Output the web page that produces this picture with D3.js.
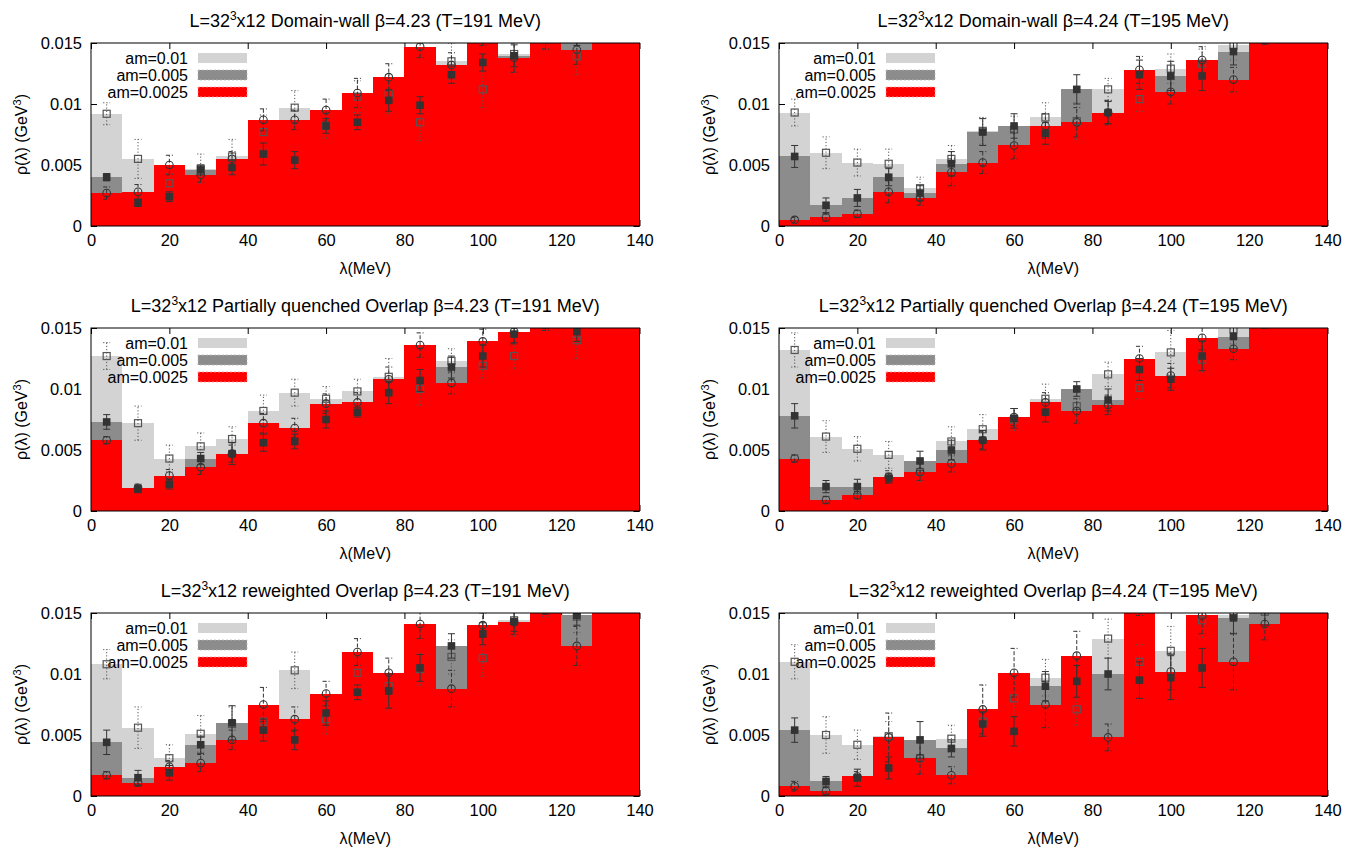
<!DOCTYPE html>
<html lang="en">
<head>
<meta charset="UTF-8" />
<title>rho(lambda) histograms</title>
<script src="https://d3js.org/d3.v7.min.js"></script>
<style>
  body { margin: 0; background: #fff; }
  svg { font-family: "Liberation Sans", Arial, sans-serif; }
</style>
</head>
<body>
<svg id="chart" width="1364" height="850"></svg>
<script>
// bin lower edges (MeV), bin width 8
const binStarts = [0, 8, 16, 24, 32, 40, 48, 56, 64, 72, 80, 88, 96, 104, 112, 120, 128, 136];
const binWidth = 8;
const xTicks = [0, 20, 40, 60, 80, 100, 120, 140];
const yTicks = [0, 0.005, 0.01, 0.015];
const seriesNames = ["am=0.01", "am=0.005", "am=0.0025"];

// Domain-wall beta=4.23
const dw423_01 = [0.0092, 0.0055, 0.0035, 0.0047, 0.0057, 0.0077, 0.0097, 0.0082, 0.0106, 0.0108, 0.0085, 0.0135, 0.0112, 0.0141, 0.0160, 0.0139, 0.0170, 0.0175];
const dw423_01e = [0.0009, 0.0016, 0.0008, 0.0012, 0.0014, 0.0014, 0.0014, 0.0010, 0.0013, 0.0016, 0.0015, 0.0015, 0.0015, 0.0015, 0.0015, 0.0015, 0.0015, 0.0015];
const dw423_005 = [0.0040, 0.0019, 0.0024, 0.0046, 0.0048, 0.0059, 0.0054, 0.0082, 0.0085, 0.0103, 0.0099, 0.0124, 0.0134, 0.01395, 0.0158, 0.0156, 0.0168, 0.0172];
const dw423_005e = [0.0003, 0.0003, 0.0004, 0.0004, 0.0006, 0.0009, 0.0007, 0.0006, 0.0006, 0.0009, 0.0007, 0.0007, 0.0007, 0.0009, 0.0008, 0.0008, 0.0008, 0.0008];
const dw423_0025 = [0.0027, 0.0028, 0.0050, 0.0042, 0.0055, 0.0087, 0.0087, 0.0095, 0.0109, 0.0122, 0.0147, 0.0132, 0.0158, 0.0138, 0.0155, 0.01445, 0.0165, 0.0170];
const dw423_0025e = [0.0005, 0.0006, 0.0008, 0.0006, 0.0006, 0.0009, 0.0008, 0.0009, 0.0012, 0.0011, 0.0009, 0.0010, 0.0010, 0.0012, 0.0010, 0.0012, 0.0010, 0.0010];

// Domain-wall beta=4.24
const dw424_01 = [0.0093, 0.0060, 0.0052, 0.0051, 0.0031, 0.0055, 0.0078, 0.0079, 0.0089, 0.0086, 0.0112, 0.0104, 0.0129, 0.0133, 0.0148, 0.0165, 0.0170, 0.0175];
const dw424_01e = [0.0011, 0.0013, 0.0011, 0.0012, 0.0009, 0.0011, 0.0011, 0.0011, 0.0012, 0.0015, 0.0009, 0.0010, 0.0012, 0.0012, 0.0012, 0.0012, 0.0012, 0.0012];
const dw424_005 = [0.0057, 0.0017, 0.0023, 0.0040, 0.0027, 0.0051, 0.0077, 0.0082, 0.0076, 0.0112, 0.0093, 0.0124, 0.0123, 0.0123, 0.0143, 0.0160, 0.0168, 0.0172];
const dw424_005e = [0.0009, 0.0006, 0.0007, 0.0007, 0.0006, 0.0010, 0.0011, 0.0010, 0.0009, 0.0012, 0.0009, 0.0012, 0.0012, 0.0012, 0.0011, 0.0011, 0.0011, 0.0011];
const dw424_0025 = [0.0005, 0.0007, 0.0010, 0.0028, 0.0023, 0.0044, 0.0052, 0.0066, 0.0082, 0.0085, 0.0093, 0.0128, 0.0110, 0.0136, 0.0120, 0.0160, 0.0165, 0.0170];
const dw424_0025e = [0.0002, 0.0003, 0.0003, 0.0009, 0.0006, 0.0011, 0.0009, 0.0011, 0.0010, 0.0012, 0.0010, 0.0011, 0.0010, 0.0011, 0.0010, 0.0010, 0.0010, 0.0010];

// Partially quenched Overlap beta=4.23
const pq423_01 = [0.0127, 0.0072, 0.0043, 0.0053, 0.0059, 0.0082, 0.0097, 0.0092, 0.0098, 0.0110, 0.0100, 0.0123, 0.0119, 0.0127, 0.0160, 0.0140, 0.0170, 0.0175];
const pq423_01e = [0.0011, 0.0014, 0.0011, 0.0011, 0.0010, 0.0013, 0.0011, 0.0010, 0.0010, 0.0015, 0.0013, 0.0010, 0.0010, 0.0010, 0.0012, 0.0015, 0.0012, 0.0012];
const pq423_005 = [0.0073, 0.0018, 0.0022, 0.0043, 0.0047, 0.0056, 0.0057, 0.0075, 0.0081, 0.0097, 0.0107, 0.0118, 0.0127, 0.0145, 0.0158, 0.0147, 0.0168, 0.0172];
const pq423_005e = [0.0006, 0.0003, 0.0004, 0.0005, 0.0009, 0.0007, 0.0006, 0.0007, 0.0004, 0.0009, 0.0009, 0.0009, 0.0009, 0.0007, 0.0008, 0.0008, 0.0008, 0.0008];
const pq423_0025 = [0.0058, 0.0019, 0.0029, 0.0036, 0.0047, 0.0072, 0.0068, 0.0088, 0.0089, 0.0108, 0.0136, 0.0105, 0.0139, 0.0147, 0.0158, 0.0155, 0.0165, 0.0170];
const pq423_0025e = [0.0003, 0.0003, 0.0005, 0.0006, 0.0007, 0.0008, 0.0008, 0.0008, 0.0008, 0.0010, 0.0010, 0.0009, 0.0010, 0.0010, 0.0010, 0.0010, 0.0010, 0.0010];

// Partially quenched Overlap beta=4.24
const pq424_01 = [0.0132, 0.0061, 0.0051, 0.0046, 0.0032, 0.0057, 0.0067, 0.0075, 0.0092, 0.0086, 0.0112, 0.0101, 0.0130, 0.0124, 0.0149, 0.0165, 0.0170, 0.0175];
const pq424_01e = [0.0014, 0.0013, 0.0010, 0.0011, 0.0008, 0.0012, 0.0012, 0.0009, 0.0012, 0.0013, 0.0010, 0.0009, 0.0018, 0.0010, 0.0012, 0.0012, 0.0012, 0.0012];
const pq424_005 = [0.0078, 0.0020, 0.0020, 0.0027, 0.0041, 0.0050, 0.0058, 0.0076, 0.0081, 0.0100, 0.0091, 0.0116, 0.0108, 0.0127, 0.0143, 0.0160, 0.0168, 0.0172];
const pq424_005e = [0.0010, 0.0005, 0.0006, 0.0004, 0.0008, 0.0008, 0.0008, 0.0008, 0.0008, 0.0006, 0.0009, 0.0009, 0.0009, 0.0012, 0.0010, 0.0010, 0.0010, 0.0010];
const pq424_0025 = [0.0043, 0.0009, 0.0013, 0.0028, 0.0032, 0.0039, 0.0058, 0.0077, 0.0089, 0.0082, 0.0087, 0.0125, 0.0111, 0.0142, 0.0133, 0.0160, 0.0165, 0.0170];
const pq424_0025e = [0.0003, 0.0003, 0.0003, 0.0005, 0.0007, 0.0007, 0.0007, 0.0007, 0.0008, 0.0010, 0.0008, 0.0010, 0.0010, 0.0010, 0.0009, 0.0010, 0.0010, 0.0010];

// reweighted Overlap beta=4.23
const rw423_01 = [0.0108, 0.0056, 0.0031, 0.0051, 0.0059, 0.0061, 0.0103, 0.0063, 0.0101, 0.0090, 0.0104, 0.0114, 0.0113, 0.0144, 0.0160, 0.0147, 0.0170, 0.0175];
const rw423_01e = [0.0012, 0.0017, 0.0011, 0.0015, 0.0014, 0.0012, 0.0015, 0.0012, 0.0013, 0.0013, 0.0013, 0.0014, 0.0015, 0.0013, 0.0013, 0.0013, 0.0013, 0.0013];
const rw423_005 = [0.0044, 0.0015, 0.0019, 0.0042, 0.0060, 0.0054, 0.0046, 0.0068, 0.0085, 0.0086, 0.0105, 0.0123, 0.0133, 0.0143, 0.0158, 0.0148, 0.0168, 0.0172];
const rw423_005e = [0.0010, 0.0006, 0.0006, 0.0007, 0.0014, 0.0009, 0.0008, 0.0010, 0.0006, 0.0014, 0.0011, 0.0010, 0.0009, 0.0008, 0.0009, 0.0008, 0.0009, 0.0009];
const rw423_0025 = [0.0017, 0.0011, 0.0024, 0.0027, 0.0046, 0.0075, 0.0063, 0.0084, 0.0118, 0.0101, 0.0141, 0.0088, 0.0140, 0.01425, 0.0160, 0.0123, 0.0165, 0.0170];
const rw423_0025e = [0.0003, 0.0003, 0.0005, 0.0007, 0.0008, 0.0014, 0.0010, 0.0010, 0.0011, 0.0012, 0.0012, 0.0015, 0.0010, 0.0010, 0.0010, 0.0016, 0.0010, 0.0010];

// reweighted Overlap beta=4.24
const rw424_01 = [0.0110, 0.0050, 0.0042, 0.0049, 0.0031, 0.0047, 0.0061, 0.0080, 0.0097, 0.0071, 0.0129, 0.0110, 0.0119, 0.0144, 0.0148, 0.0151, 0.0170, 0.0175];
const rw424_01e = [0.0014, 0.0015, 0.0012, 0.0012, 0.0013, 0.0011, 0.0011, 0.0016, 0.0015, 0.0013, 0.0016, 0.0014, 0.0020, 0.0014, 0.0014, 0.0014, 0.0014, 0.0014];
const rw424_005 = [0.0054, 0.0012, 0.0015, 0.0023, 0.0046, 0.0039, 0.0059, 0.0053, 0.0090, 0.0094, 0.0100, 0.0095, 0.0097, 0.0105, 0.0146, 0.0153, 0.0168, 0.0172];
const rw424_005e = [0.0010, 0.0004, 0.0007, 0.0009, 0.0015, 0.0007, 0.0010, 0.0012, 0.0012, 0.0013, 0.0013, 0.0015, 0.0018, 0.0016, 0.0013, 0.0013, 0.0013, 0.0013];
const rw424_0025 = [0.0008, 0.0004, 0.0016, 0.0048, 0.0031, 0.0017, 0.0071, 0.0101, 0.0075, 0.0115, 0.0048, 0.0160, 0.0102, 0.0148, 0.0110, 0.0141, 0.0165, 0.0170];
const rw424_0025e = [0.0004, 0.0003, 0.0004, 0.0020, 0.0013, 0.0007, 0.0020, 0.0020, 0.0019, 0.0020, 0.0011, 0.0012, 0.0015, 0.0015, 0.0023, 0.0013, 0.0012, 0.0012];

const panels = [
  { title: "Domain-wall β=4.23 (T=191 MeV)", vals: [dw423_01, dw423_005, dw423_0025], errs: [dw423_01e, dw423_005e, dw423_0025e] },
  { title: "Domain-wall β=4.24 (T=195 MeV)", vals: [dw424_01, dw424_005, dw424_0025], errs: [dw424_01e, dw424_005e, dw424_0025e] },
  { title: "Partially quenched Overlap β=4.23 (T=191 MeV)", vals: [pq423_01, pq423_005, pq423_0025], errs: [pq423_01e, pq423_005e, pq423_0025e] },
  { title: "Partially quenched Overlap β=4.24 (T=195 MeV)", vals: [pq424_01, pq424_005, pq424_0025], errs: [pq424_01e, pq424_005e, pq424_0025e] },
  { title: "reweighted Overlap β=4.23 (T=191 MeV)", vals: [rw423_01, rw423_005, rw423_0025], errs: [rw423_01e, rw423_005e, rw423_0025e] },
  { title: "reweighted Overlap β=4.24 (T=195 MeV)", vals: [rw424_01, rw424_005, rw424_0025], errs: [rw424_01e, rw424_005e, rw424_0025e] },
];

// layout
const colX = [91, 779];
const plotW = 548.5;
const rowY = [43, 328, 613];
const plotH = 183;
const barColors = ["#d3d3d3", "#8c8c8c", "#ff0000"];
const errDash = ["1.2,2", null, "4,2"];
const ink = "#333";

const svg = d3.select("#chart");

panels.forEach((p, i) => {
  const x0 = colX[i % 2];
  const y0 = rowY[Math.floor(i / 2)];
  const g = svg.append("g");

  const x = d3.scaleLinear().domain([0, 140]).range([x0, x0 + plotW]);
  const y = d3.scaleLinear().domain([0, 0.015]).range([y0 + plotH, y0]);

  const clipId = "clip" + i;
  g.append("clipPath").attr("id", clipId)
    .append("rect").attr("x", x0).attr("y", y0).attr("width", plotW).attr("height", plotH);

  // ticks (behind the bars), mirrored on all sides
  const fmtY = (d) => (d === 0 ? "0" : String(+d.toFixed(3)));
  g.append("g").attr("transform", `translate(0,${y0 + plotH})`)
    .call(d3.axisBottom(x).tickValues(xTicks).tickSize(-6).tickPadding(8).tickFormat(d3.format("d")));
  g.append("g").attr("transform", `translate(0,${y0})`)
    .call(d3.axisTop(x).tickValues(xTicks).tickSize(-6).tickFormat(""));
  g.append("g").attr("transform", `translate(${x0},0)`)
    .call(d3.axisLeft(y).tickValues(yTicks).tickSize(-6).tickPadding(9).tickFormat(fmtY));
  g.append("g").attr("transform", `translate(${x0 + plotW},0)`)
    .call(d3.axisRight(y).tickValues(yTicks).tickSize(-6).tickFormat(""));
  g.selectAll(".domain").remove();
  g.selectAll(".tick line").attr("stroke", "#000");
  g.selectAll(".tick text").attr("font-size", 16.5).attr("fill", "#000")
    .attr("font-family", "'Liberation Sans', Arial, sans-serif");

  // histogram bars: am=0.01, then am=0.005, then am=0.0025 on top
  const plot = g.append("g").attr("clip-path", `url(#${clipId})`);
  p.vals.forEach((vals, s) => {
    plot.append("g").selectAll("rect")
      .data(vals)
      .join("rect")
      .attr("shape-rendering", "crispEdges")
      .attr("x", (d, k) => x(binStarts[k]))
      .attr("width", (d, k) => x(binStarts[k] + binWidth) - x(binStarts[k]))
      .attr("y", (d) => y(d))
      .attr("height", (d) => y(0) - y(d))
      .attr("fill", barColors[s]);
  });

  // legend
  const leg = g.append("g");
  seriesNames.forEach((name, s) => {
    const ly = y0 + 15 + s * 17;
    leg.append("text")
      .attr("x", x0 + 97).attr("y", ly + 5.5)
      .attr("text-anchor", "end").attr("font-size", 16)
      .text(name);
    leg.append("rect")
      .attr("x", x0 + 107).attr("y", ly - 5)
      .attr("width", 49).attr("height", 10)
      .attr("fill", barColors[s])
      .attr("stroke", s === 0 ? "none" : s === 1 ? "#bbb" : "#ff9a9a")
      .attr("stroke-dasharray", "2,2").attr("stroke-width", 0.8);
  });

  // points with error bars
  const pts = g.append("g").attr("clip-path", `url(#${clipId})`);
  p.vals.forEach((vals, s) => {
    const errs = p.errs[s];
    const sg = pts.append("g");
    vals.forEach((v, k) => {
      const cx = x(binStarts[k] + binWidth / 2);
      const yl = y(v - errs[k]);
      const yh = y(v + errs[k]);
      const e = sg.append("g")
        .attr("stroke", s === 0 ? "#555" : ink)
        .attr("stroke-width", 1)
        .attr("stroke-dasharray", errDash[s]);
      e.append("line").attr("x1", cx).attr("x2", cx).attr("y1", yl).attr("y2", yh);
      e.append("line").attr("x1", cx - 3.5).attr("x2", cx + 3.5).attr("y1", yl).attr("y2", yl);
      e.append("line").attr("x1", cx - 3.5).attr("x2", cx + 3.5).attr("y1", yh).attr("y2", yh);
      const cy = y(v);
      if (s === 0) {
        sg.append("rect").attr("x", cx - 3.5).attr("y", cy - 3.5).attr("width", 7).attr("height", 7)
          .attr("fill", "none").attr("stroke", "#555").attr("stroke-width", 1.2);
      } else if (s === 1) {
        sg.append("rect").attr("x", cx - 3.8).attr("y", cy - 3.8).attr("width", 7.6).attr("height", 7.6)
          .attr("fill", ink);
      } else {
        sg.append("circle").attr("cx", cx).attr("cy", cy).attr("r", 3.8)
          .attr("fill", "none").attr("stroke", ink).attr("stroke-width", 1.1);
      }
    });
  });

  // frame
  g.append("rect")
    .attr("x", x0).attr("y", y0).attr("width", plotW).attr("height", plotH)
    .attr("fill", "none").attr("stroke", "#000").attr("stroke-width", 1);

  // title with superscript
  const t = g.append("text")
    .attr("x", x0 + plotW / 2).attr("y", y0 - 16)
    .attr("text-anchor", "middle").attr("font-size", 18);
  t.append("tspan").text("L=32");
  t.append("tspan").attr("font-size", 12).attr("dy", -7).text("3");
  t.append("tspan").attr("dy", 7).text("x12 " + p.title);

  // axis labels
  g.append("text")
    .attr("x", x0 + plotW / 2).attr("y", y0 + plotH + 48)
    .attr("text-anchor", "middle").attr("font-size", 16)
    .text("λ(MeV)");
  const yl = g.append("text")
    .attr("transform", `translate(${x0 - 64},${y0 + plotH / 2}) rotate(-90)`)
    .attr("text-anchor", "middle").attr("font-size", 16);
  yl.append("tspan").text("ρ(λ) (GeV");
  yl.append("tspan").attr("font-size", 11).attr("dy", -6).text("3");
  yl.append("tspan").attr("dy", 6).text(")");
});
</script>
</body>
</html>
